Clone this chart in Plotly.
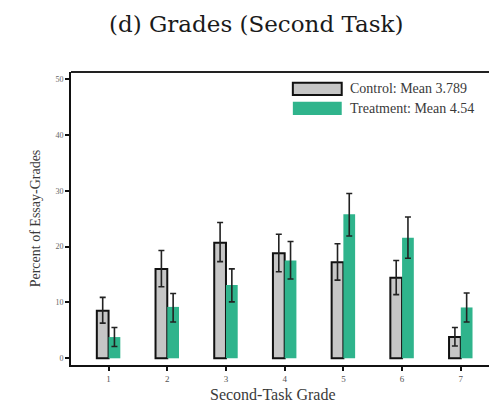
import plotly.graph_objects as go

grades = [1, 2, 3, 4, 5, 6, 7]
tick_labels = ["1", "2", "3", "4", "5", "6", "7"]
control = [8.5, 16.0, 20.7, 18.8, 17.2, 14.4, 3.8]
control_hi = [10.9, 19.3, 24.3, 22.2, 20.5, 17.5, 5.5]
control_lo = [6.3, 12.8, 17.3, 15.5, 14.0, 11.4, 2.2]
treatment = [3.8, 9.2, 13.1, 17.5, 25.8, 21.6, 9.1]
treatment_hi = [5.5, 11.6, 16.0, 20.9, 29.5, 25.3, 11.7]
treatment_lo = [2.1, 6.5, 10.1, 14.2, 21.9, 17.9, 6.5]
y_ticks = [0, 10, 20, 30, 40, 50]
legend_labels = ["Control: Mean 3.789", "Treatment: Mean 4.54"]

GRAY = "#c6c6c6"
GREEN = "#2fb48c"
SERIF = "Liberation Serif, Times New Roman, serif"

fig = go.Figure()
fig.add_trace(go.Bar(
    x=grades, y=control, name=legend_labels[0],
    marker=dict(color=GRAY, line=dict(color="#111", width=2)),
    error_y=dict(type="data", symmetric=False,
                 array=[h - v for h, v in zip(control_hi, control)],
                 arrayminus=[v - l for v, l in zip(control, control_lo)],
                 color="#222", thickness=1.6, width=3),
))
fig.add_trace(go.Bar(
    x=grades, y=treatment, name=legend_labels[1],
    marker=dict(color=GREEN, line=dict(width=0)),
    error_y=dict(type="data", symmetric=False,
                 array=[h - v for h, v in zip(treatment_hi, treatment)],
                 arrayminus=[v - l for v, l in zip(treatment, treatment_lo)],
                 color="#222", thickness=1.6, width=3),
))

shapes = [
    dict(type="line", xref="paper", yref="paper", x0=0, x1=1, y0=1, y1=1,
         line=dict(color="#222", width=2), layer="below"),
    dict(type="line", xref="paper", yref="paper", x0=1, x1=1, y0=0, y1=1,
         line=dict(color="#555", width=1.2), layer="below"),
    dict(type="rect", xref="paper", yref="paper", x0=0.522, x1=0.637, y0=0.9215, y1=0.9635,
         fillcolor=GRAY, line=dict(color="#111", width=2)),
    dict(type="rect", xref="paper", yref="paper", x0=0.522, x1=0.637, y0=0.853, y1=0.8986,
         fillcolor=GREEN, line=dict(width=0)),
]
annotations = [
    dict(text=legend_labels[0], xref="paper", yref="paper", x=0.652, y=0.9425,
         xanchor="left", yanchor="middle", showarrow=False,
         font=dict(family=SERIF, size=14, color="#3a3a3a")),
    dict(text=legend_labels[1], xref="paper", yref="paper", x=0.652, y=0.876,
         xanchor="left", yanchor="middle", showarrow=False,
         font=dict(family=SERIF, size=14, color="#3a3a3a")),
    dict(text="Second-Task Grade", xref="paper", yref="paper", x=(273 - 71) / 425, y=-0.099,
         xanchor="center", yanchor="middle", showarrow=False,
         font=dict(family=SERIF, size=16, color="#3a3a3a")),
    dict(text="(d) Grades (Second Task)", xref="paper", yref="paper", x=(256 - 71) / 425,
         y=(365 - 24) / 293, xanchor="center", yanchor="middle", showarrow=False,
         font=dict(family="DejaVu Serif, serif", size=23, color="#1a1a1a")),
]

fig.update_layout(
    width=489, height=397,
    margin=dict(l=63, r=1, t=64, b=40, autoexpand=False),
    paper_bgcolor="white", plot_bgcolor="white",
    barmode="group", bargap=0.6, bargroupgap=0,
    showlegend=False,
    shapes=shapes, annotations=annotations,
    xaxis=dict(range=[0.36, 7.6], tickmode="array", tickvals=grades, ticktext=tick_labels,
               showgrid=False, zeroline=False, showline=True, linecolor="#111", linewidth=2,
               ticks="outside", ticklen=4, tickwidth=1.5, tickcolor="#111", automargin=False,
               tickfont=dict(family=SERIF, size=9, color="#555")),
    yaxis=dict(range=[-1.2, 51.25], tickmode="array", tickvals=y_ticks, automargin=False,
               showgrid=False, zeroline=False, showline=True, linecolor="#111", linewidth=2,
               ticks="outside", ticklen=4, tickwidth=1.5, tickcolor="#111",
               tickfont=dict(family=SERIF, size=8, color="#666"),
               title=dict(text="Percent of Essay-Grades", standoff=12,
                          font=dict(family=SERIF, size=14, color="#3a3a3a"))),
)

fig.write_html("out.html")
